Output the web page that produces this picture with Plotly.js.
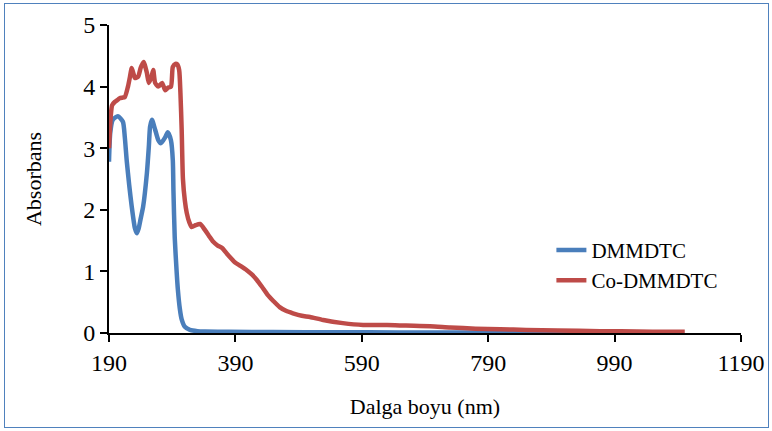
<!DOCTYPE html>
<html>
<head>
<meta charset="utf-8">
<script src="https://cdn.plot.ly/plotly-3.0.1.min.js"></script>
<style>
html,body{margin:0;padding:0;background:#fff;}
#wrap{position:relative;width:772px;height:431px;}
#chart{position:absolute;left:0;top:0;width:772px;height:431px;}
#frame{position:absolute;left:4px;top:3px;width:763px;height:423px;border:1.5px solid #4F81BD;pointer-events:none;}
</style>
</head>
<body>
<div id="wrap"><div id="chart"></div><div id="frame"></div></div>
<script>
// DMMDTC
const dmNm = [190, 192, 196, 204, 212, 215, 218, 222, 226, 231, 234, 237, 240, 244, 250, 253, 255, 258, 263, 268, 272, 279, 283, 288, 291, 292, 294, 297, 299, 302, 305, 310, 318, 330, 342, 380, 450, 550, 650, 750, 850, 950, 1050, 1100];
const dmAbs = [2.78, 3.25, 3.46, 3.52, 3.43, 3.18, 2.8, 2.4, 2.05, 1.70, 1.62, 1.70, 1.85, 2.05, 2.6, 3.02, 3.35, 3.46, 3.3, 3.13, 3.08, 3.18, 3.26, 3.13, 2.8, 2.3, 1.55, 1.0, 0.7, 0.4, 0.22, 0.1, 0.05, 0.03, 0.025, 0.02, 0.015, 0.012, 0.01, 0.008, 0.006, 0.005, 0.004, 0.004];
// Co-DMMDTC
const coNm = [190, 193, 195, 199, 203, 207, 211, 215, 220, 223, 226, 229, 231, 236, 240, 242, 245, 248, 250, 253, 257, 260, 263, 268, 274, 279, 283, 288, 291, 295, 298, 301, 303, 305, 307, 310, 313, 317, 321, 327, 334, 342, 348, 355, 362, 369, 378, 389, 398, 408, 416, 424, 432, 441, 450, 460, 470, 481, 495, 508, 529, 560, 592, 630, 660, 698, 730, 770, 809, 850, 900, 967, 1000, 1050, 1101];
const coAbs = [3.0, 3.55, 3.7, 3.75, 3.78, 3.81, 3.82, 3.83, 4.0, 4.15, 4.3, 4.2, 4.14, 4.16, 4.3, 4.35, 4.4, 4.3, 4.22, 4.06, 4.15, 4.27, 4.06, 4.0, 4.06, 3.94, 3.98, 4.0, 4.32, 4.37, 4.36, 4.27, 3.9, 3.3, 2.5, 2.15, 1.95, 1.8, 1.72, 1.75, 1.77, 1.67, 1.58, 1.48, 1.42, 1.38, 1.27, 1.15, 1.09, 1.02, 0.95, 0.86, 0.75, 0.62, 0.52, 0.42, 0.36, 0.32, 0.28, 0.26, 0.21, 0.16, 0.13, 0.13, 0.12, 0.11, 0.09, 0.07, 0.06, 0.05, 0.04, 0.03, 0.03, 0.02, 0.02];
const seriesNames = ['DMMDTC', 'Co-DMMDTC'];
const xTitle = 'Dalga boyu (nm)';
const yTitle = 'Absorbans';

const font = '"Liberation Serif", "Times New Roman", serif';
const traces = [
  {x: dmNm, y: dmAbs, name: seriesNames[0], mode: 'lines', line: {color: '#4A7EBB', width: 4.5, shape: 'spline', smoothing: 0.6}},
  {x: coNm, y: coAbs, name: seriesNames[1], mode: 'lines', line: {color: '#BE4B48', width: 4.5, shape: 'spline', smoothing: 0.6}}
];
const layout = {
  width: 772, height: 431,
  margin: {l: 109, r: 31, t: 25, b: 98},
  paper_bgcolor: '#fff', plot_bgcolor: '#fff',
  font: {family: font, size: 21, color: '#000'},
  showlegend: true,
  legend: {x: 0.70, y: 0.22, xanchor: 'left', yanchor: 'middle', bgcolor: 'rgba(0,0,0,0)', font: {family: font, size: 21, color: '#000'}},
  xaxis: {
    range: [190, 1190], tick0: 190, dtick: 200, showgrid: false, zeroline: false,
    showline: true, linecolor: '#000', linewidth: 2,
    ticks: 'outside', ticklen: 7, tickwidth: 2, tickcolor: '#000',
    tickfont: {family: font, size: 24},
    title: {text: xTitle, font: {family: font, size: 22}, standoff: 24}
  },
  yaxis: {
    range: [0, 5], dtick: 1, showgrid: false, zeroline: false,
    showline: true, linecolor: '#000', linewidth: 2,
    ticks: 'outside', ticklen: 7, tickwidth: 2, tickcolor: '#000',
    tickfont: {family: font, size: 24},
    title: {text: yTitle, font: {family: font, size: 22}, standoff: 36}
  }
};
Plotly.newPlot('chart', traces, layout, {displayModeBar: false, staticPlot: true});
</script>
</body>
</html>
